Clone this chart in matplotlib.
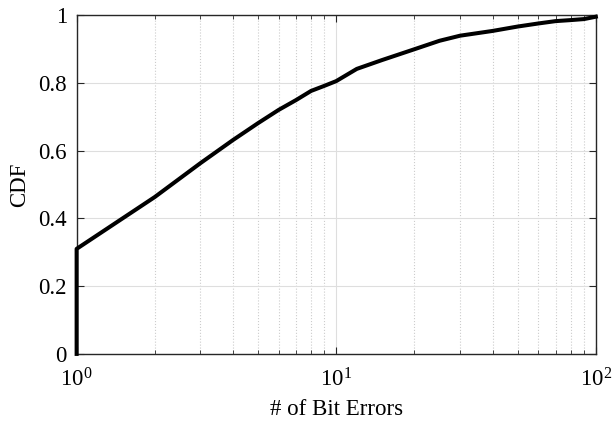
import numpy as np
import matplotlib
matplotlib.use('Agg')
import matplotlib.pyplot as plt
from matplotlib.ticker import FuncFormatter, LogLocator, NullFormatter

plt.rcParams['font.family'] = 'Liberation Serif'
plt.rcParams['mathtext.fontset'] = 'custom'
plt.rcParams['mathtext.rm'] = 'Liberation Serif'
plt.rcParams['mathtext.it'] = 'Liberation Serif:italic'

# values
bit_errors = [1, 1, 2, 3, 4, 5, 6, 7, 8, 9, 10, 12, 15, 20, 25, 30, 40, 50, 60, 70, 80, 90, 100]
cdf = [0.0, 0.31, 0.463, 0.563, 0.631, 0.681, 0.72, 0.749, 0.776, 0.791, 0.805, 0.841,
       0.867, 0.899, 0.924, 0.939, 0.953, 0.966, 0.975, 0.982, 0.985, 0.988, 0.995]
y_ticks = [0, 0.2, 0.4, 0.6, 0.8, 1]

fig = plt.figure(figsize=(6.13, 4.29), dpi=100)
ax = fig.add_axes([0.125, 0.175, 0.847, 0.79])

ax.plot(bit_errors, cdf, color='black', linewidth=2.9, solid_joinstyle='round',
        clip_on=False, zorder=5)
ax.set_xscale('log')
ax.set_xlim(1, 100)
ax.set_ylim(0, 1)
ax.set_yticks(y_ticks)
ax.yaxis.set_major_formatter(FuncFormatter(lambda v, p: '%g' % v))
ax.xaxis.set_major_locator(LogLocator(base=10, numticks=5))
ax.xaxis.set_minor_locator(LogLocator(base=10, subs=np.arange(2, 10), numticks=20))
ax.xaxis.set_minor_formatter(NullFormatter())
ax.xaxis.set_major_formatter(FuncFormatter(lambda v, p: r'$10^{%d}$' % round(np.log10(v))))

ax.grid(which='major', color='#dedede', linestyle='-', linewidth=0.8)
ax.grid(which='minor', axis='x', color='#cccccc', linestyle=':', linewidth=0.8)
ax.set_axisbelow(True)

for s in ax.spines.values():
    s.set_color('#262626')
    s.set_linewidth(1.0)
ax.tick_params(which='both', direction='in', top=True, right=True, colors='#262626',
               labelcolor='black', labelsize=16.5)
ax.tick_params(which='major', length=5, width=0.8)
ax.tick_params(which='minor', length=3, width=0.6)
ax.tick_params(axis='x', pad=10)
ax.tick_params(axis='y', pad=7)

ax.set_xlabel('# of Bit Errors', fontsize=16.5, labelpad=6)
ax.set_ylabel('CDF', fontsize=16.5, labelpad=6)

fig.savefig('out.png', dpi=100)
